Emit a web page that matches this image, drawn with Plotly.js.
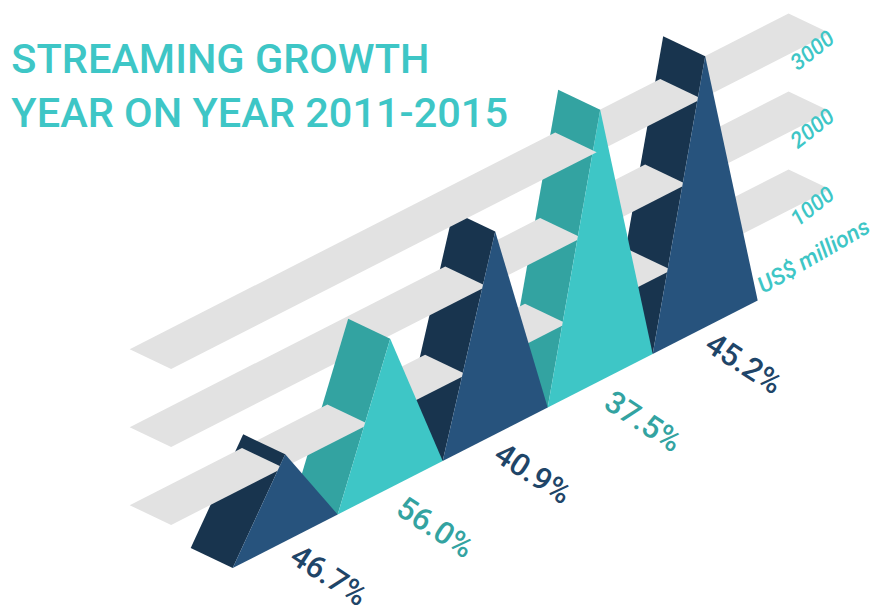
<!DOCTYPE html>
<html>
<head>
<meta charset="utf-8">
<script src="https://cdn.plot.ly/plotly-3.0.1.min.js"></script>
<style>html, body { margin: 0; background: #fff; }</style>
</head>
<body>
<div id="plotly_graph" style="width:874px;height:608px"></div>
<script>
//**************************************************************************
//~~~~~~~~~~~~~~~~~~~~~~~~~~~~~~~~~~ DATA ~~~~~~~~~~~~~~~~~~~~~~~~~~~~~~~~~~
//**************************************************************************

const YEARS = ['2011', '2012', '2013', '2014', '2015']
const REVENUE = [1115, 1910, 2600, 3475, 3475]
const GROWTH_LABELS = ['46.7%', '56.0%', '40.9%', '37.5%', '45.2%']
const LEVELS = [1000, 2000, 3000]
const LEVEL_LABELS = ['1000', '2000', '3000']
const UNIT_LABEL = 'US$ millions'


//**************************************************************************
//~~~~~~~~~~~~~~~~~~~~~~~~~~~~~~~ PROJECTION ~~~~~~~~~~~~~~~~~~~~~~~~~~~~~~~
//**************************************************************************

// u = year position along the base, v = US$ millions, d = depth into the page
const project = (u, v, d) => [
    232.7 + 105 * u - 42 * d,
    568 - 53.5 * u - 20 * d - 0.078 * v
]

const BAND_LEFT = -0.621
const BAND_RIGHT = 5.654
const BAND_FRONT = -0.087
const BAND_REAR = 0.9

// a bar this far below a band slides under it, closer ones are drawn over it
const TUCK_UNDER = 200

const NAVY = { face: '#27537d', side: '#18344e', label: '#1f4568' }
const TEAL = { face: '#3ec6c6', side: '#33a3a1', label: '#33a3a1' }
const GREY = '#e2e2e2'

// hand nudges for the growth labels, the original ones do not sit evenly
const LABEL_NUDGE_X = [44, 45, 38, 43, 39]
const LABEL_NUDGE_Y = [34, 40, 39, 41, 36]


//**************************************************************************
//~~~~~~~~~~~~~~~~~~~~~~~~~~~~~~~~~ TRACES ~~~~~~~~~~~~~~~~~~~~~~~~~~~~~~~~~
//**************************************************************************

const polygon = (name, color, points) => ({
    type: 'scatter',
    mode: 'lines',
    name: name,
    x: points.map(p => p[0]),
    y: points.map(p => p[1]),
    fill: 'toself',
    fillcolor: color,
    line: { width: 0, color: color },
    hoverinfo: 'name',
    showlegend: false
})

// One band is split wherever a taller bar pierces it. Keyed by the bar that
// closes the piece on its right, YEARS.length for the piece at the far end.
const bandPieces = (level) => {
    let pieces = {}
    let end = BAND_RIGHT
    let closedBy = YEARS.length
    for (let i = YEARS.length - 1; i >= 0; i--) {
        if (REVENUE[i] <= level) continue
        let start = i + 1 - 0.5 * level / REVENUE[i] - 0.1
        pieces[closedBy] = [start, end]
        end = i + 0.5 * level / REVENUE[i]
        closedBy = i
    }
    pieces[closedBy] = [BAND_LEFT, end]
    return pieces
}

const bandTrace = (level, piece) => polygon(level + ' band', GREY, [
    project(piece[0], level, BAND_FRONT),
    project(piece[1], level, BAND_FRONT),
    project(piece[1], level, BAND_REAR),
    project(piece[0], level, BAND_REAR)
])

// Painted from the far right bar to the near left bar
let data = []
let pending = []

LEVELS.forEach(level => {
    let piece = bandPieces(level)[YEARS.length]
    if (piece) data.push(bandTrace(level, piece))
})

for (let j = YEARS.length - 1; j >= 0; j--) {
    let style = j % 2 === 1 ? TEAL : NAVY
    let v = REVENUE[j]
    let later = []

    data.push(polygon(YEARS[j] + ' side', style.side, [
        project(j, 0, 0),
        project(j, 0, 1),
        project(j + 0.5, v, 1),
        project(j + 0.5, v, 0)
    ]))

    LEVELS.forEach(level => {
        let piece = bandPieces(level)[j]
        if (!piece) return
        if (j > 0 && REVENUE[j - 1] < level && level - REVENUE[j - 1] > TUCK_UNDER) {
            later.push(bandTrace(level, piece))
        } else {
            data.push(bandTrace(level, piece))
        }
    })

    data.push(polygon(YEARS[j], style.face, [
        project(j, 0, 0),
        project(j + 0.5, v, 0),
        project(j + 1, 0, 0)
    ]))

    data = data.concat(pending)
    pending = later
}


//**************************************************************************
//~~~~~~~~~~~~~~~~~~~~~~~~~~~~~~~~~ LABELS ~~~~~~~~~~~~~~~~~~~~~~~~~~~~~~~~~
//**************************************************************************

let annotations = []

GROWTH_LABELS.forEach((label, i) => {
    let at = project(i + 0.5, 0, 0)
    annotations.push({
        x: at[0] + LABEL_NUDGE_X[i],
        y: at[1] + LABEL_NUDGE_Y[i],
        text: label,
        showarrow: false,
        textangle: 33,
        font: { family: 'Roboto', size: 31, weight: 500, color: (i % 2 === 1 ? TEAL : NAVY).label }
    })
})

LEVEL_LABELS.forEach((label, i) => {
    let at = project(BAND_RIGHT, LEVELS[i], BAND_FRONT)
    annotations.push({
        x: at[0] - 18,
        y: at[1] + 17,
        text: '<i>' + label + '</i>',
        showarrow: false,
        textangle: -38,
        font: { family: 'Roboto', size: 22, weight: 500, color: TEAL.face }
    })
})

annotations.push({
    x: 813,
    y: 256,
    text: '<i>' + UNIT_LABEL + '</i>',
    showarrow: false,
    textangle: -30,
    font: { family: 'Roboto', size: 23, weight: 500, color: TEAL.face }
})


//**************************************************************************
//~~~~~~~~~~~~~~~~~~~~~~~~~~~~~~~~~ LAYOUT ~~~~~~~~~~~~~~~~~~~~~~~~~~~~~~~~~
//**************************************************************************

let layout = {
    width: 874,
    height: 608,
    margin: { t: 0, r: 0, b: 0, l: 0 },
    paper_bgcolor: '#ffffff',
    plot_bgcolor: '#ffffff',
    title: {
        text: 'STREAMING GROWTH<br>YEAR ON YEAR 2011-2015',
        x: 0.013,
        xanchor: 'left',
        y: 0.88,
        yanchor: 'top',
        font: { family: 'Roboto', size: 41.5, weight: 500, color: TEAL.face }
    },
    xaxis: { range: [0, 874], visible: false, fixedrange: true },
    yaxis: { range: [608, 0], visible: false, fixedrange: true },
    annotations: annotations
}

const config = { displayModeBar: false, responsive: false }

Plotly.newPlot('plotly_graph', data, layout, config)
</script>
</body>
</html>
